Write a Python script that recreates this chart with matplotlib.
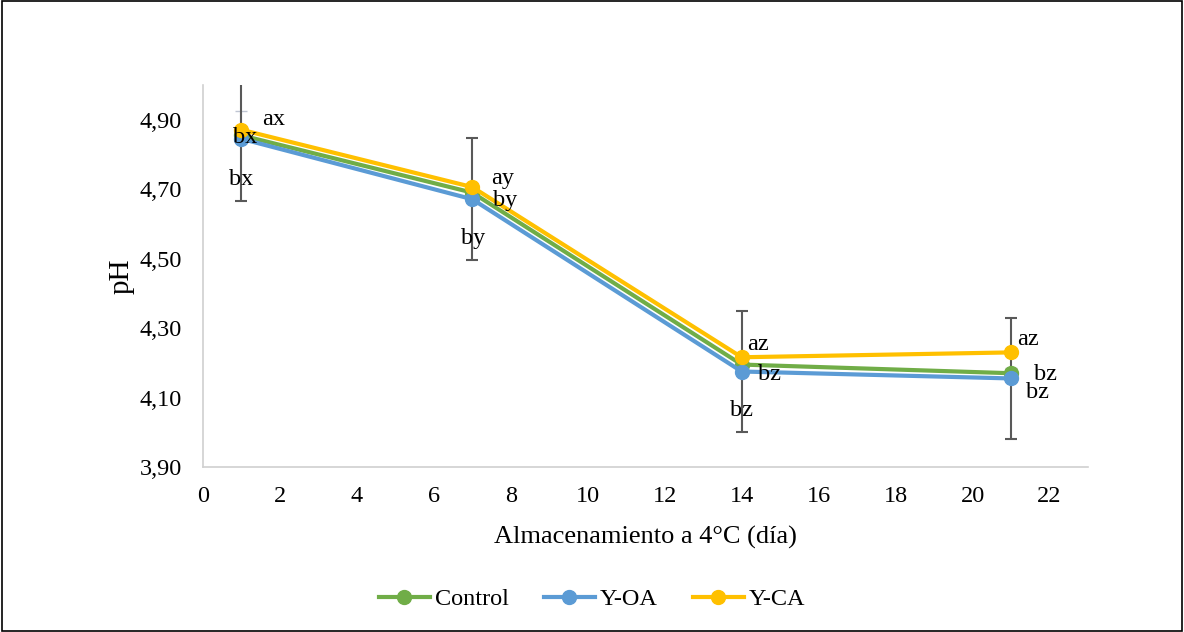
import matplotlib.pyplot as plt

plt.rcParams['font.family'] = ['Liberation Serif', 'DejaVu Serif']

# datos
dias = [1, 7, 14, 21]
control = [4.855, 4.690, 4.195, 4.170]
y_oa = [4.845, 4.671, 4.175, 4.155]
y_ca = [4.871, 4.706, 4.216, 4.230]
err_oa = [0.178, 0.175, 0.174, 0.175]
err_ca = [0.055, 0.0, 0.0, 0.0]
err_control = [0.0, 0.0, 0.0, 0.015]

etiquetas = [
    (1.53, 4.902, 'ax'), (0.78, 4.848, 'bx'), (0.68, 4.728, 'bx'),
    (7.49, 4.731, 'ay'), (7.54, 4.668, 'by'), (6.71, 4.558, 'by'),
    (14.15, 4.253, 'az'), (14.43, 4.166, 'bz'), (13.70, 4.062, 'bz'),
    (21.17, 4.268, 'az'), (21.59, 4.166, 'bz'), (21.38, 4.114, 'bz'),
]

verde = '#70AD47'
azul = '#5B9BD5'
amarillo = '#FFC000'

fig = plt.figure(figsize=(11.84, 6.32), dpi=100)
ax = fig.add_axes([203 / 1184, 1 - 467 / 632, (1088 - 203) / 1184, (467 - 85) / 632])

# barras de error pequenas (gris claro)
ax.errorbar(dias, y_ca, yerr=[[0] * 4, err_ca], fmt='none', ecolor='#BFC5D2',
            elinewidth=1.5, capsize=4.5, zorder=2)
ax.errorbar(dias, control, yerr=[[0] * 4, err_control], fmt='none', ecolor='#BFBFBF',
            elinewidth=1.5, capsize=4.5, zorder=2)
# barras de error principales
ax.errorbar(dias, y_oa, yerr=err_oa, fmt='none', ecolor='#595959',
            elinewidth=1.5, capsize=4.5, capthick=1.5, zorder=2)

ax.plot(dias, control, color=verde, lw=3, marker='o', ms=10, label='Control', zorder=3)
ax.plot(dias, y_oa, color=azul, lw=3, marker='o', ms=10, label='Y-OA', zorder=4)
ax.plot(dias, y_ca, color=amarillo, lw=3, marker='o', ms=10, label='Y-CA', zorder=5)

for x, y, t in etiquetas:
    ax.text(x, y, t, fontsize=17.5, va='center', ha='left', zorder=6)

ax.set_xlim(0, 23)
ax.set_ylim(3.9, 5.0)
ax.set_xticks(range(0, 23, 2))
ax.set_yticks([3.9, 4.1, 4.3, 4.5, 4.7, 4.9])
ax.set_yticklabels(['3,90', '4,10', '4,30', '4,50', '4,70', '4,90'])
ax.tick_params(length=0, labelsize=17.5, colors='#000000')
ax.tick_params(axis='y', pad=15)
ax.tick_params(axis='x', pad=14)
for s in ['top', 'right']:
    ax.spines[s].set_visible(False)
for s in ['left', 'bottom']:
    ax.spines[s].set_color('#D0D0D0')
    ax.spines[s].set_linewidth(1.2)

ax.set_xlabel('Almacenamiento a 4°C (día)', fontsize=19, labelpad=13)
ax.set_ylabel('pH', fontsize=21, labelpad=4)

fig.legend(loc='center', bbox_to_anchor=(0.5, 1 - 599 / 632), ncol=3, frameon=False,
           fontsize=17.5, handlelength=2.1, handletextpad=0.2, columnspacing=1.45)

fig.patches.append(plt.Rectangle((0.002, 0.002), 0.996, 0.996, transform=fig.transFigure,
                                 fill=False, edgecolor='black', lw=1.2))

fig.savefig('out.png', dpi=100)
